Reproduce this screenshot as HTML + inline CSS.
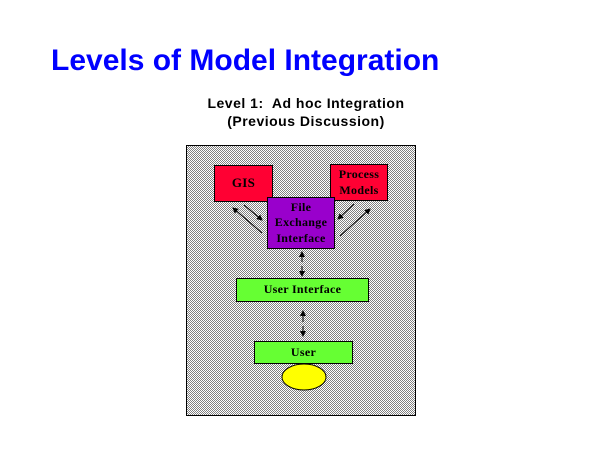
<!DOCTYPE html>
<html><head><style>
body{margin:0;width:600px;height:450px;background:#fff;position:relative;overflow:hidden;font-family:"Liberation Sans",sans-serif}
.t{position:absolute;left:51px;top:44px;font-size:30px;font-weight:bold;color:#0000ff;white-space:nowrap}
.s{position:absolute;left:156px;width:300px;text-align:center;font-size:14px;font-weight:bold;color:#000;letter-spacing:0.5px}
.b{position:absolute;box-sizing:border-box;border:1px solid #000;font-family:"Liberation Serif",serif;font-weight:bold;font-size:12px;text-align:center;display:flex;align-items:center;justify-content:center;line-height:1.3;letter-spacing:0.3px}
</style></head><body>
<div class="t">Levels of Model Integration</div>
<div class="s" style="top:95px">Level 1:&nbsp; Ad hoc Integration</div>
<div class="s" style="top:113px">(Previous Discussion)</div>
<svg style="position:absolute;left:0;top:0" width="600" height="450">
<defs>
<pattern id="d" width="2" height="2" patternUnits="userSpaceOnUse"><rect width="2" height="2" fill="#fff"/><rect width="1" height="1" fill="#808080"/><rect x="1" y="1" width="1" height="1" fill="#808080"/></pattern>
<marker id="a" markerWidth="6" markerHeight="6" refX="5" refY="3" orient="auto"><path d="M0,0L6,3L0,6z" fill="#000"/></marker>
</defs>
<rect x="186.5" y="145.5" width="229" height="270" fill="url(#d)" stroke="#000"/>
<g stroke="#000" stroke-width="1">
<line x1="244" y1="205" x2="262" y2="220" marker-end="url(#a)"/>
<line x1="262" y1="233" x2="233" y2="208" marker-end="url(#a)"/>
<line x1="354" y1="204" x2="338" y2="219" marker-end="url(#a)"/>
<line x1="340" y1="236" x2="370" y2="209" marker-end="url(#a)"/>
<line x1="302" y1="262" x2="302" y2="252" marker-end="url(#a)"/>
<line x1="302" y1="266" x2="302" y2="276" marker-end="url(#a)"/>
<line x1="303" y1="322" x2="303" y2="311" marker-end="url(#a)"/>
<line x1="303" y1="326" x2="303" y2="336" marker-end="url(#a)"/>
</g>
<ellipse cx="304" cy="377" rx="22" ry="13" fill="#ffff00" stroke="#000"/>
</svg>
<div class="b" style="left:214px;top:165px;width:59px;height:37px;background:#ff0033;font-size:13px">GIS</div>
<div class="b" style="left:330px;top:164px;width:58px;height:37px;background:#ff0033">Process<br>Models</div>
<div class="b" style="left:267px;top:197px;width:68px;height:52px;background:#9900cc">File<br>Exchange<br>Interface</div>
<div class="b" style="left:236px;top:278px;width:133px;height:24px;background:#66ff33">User Interface</div>
<div class="b" style="left:254px;top:341px;width:99px;height:23px;background:#66ff33">User</div>
</body></html>
